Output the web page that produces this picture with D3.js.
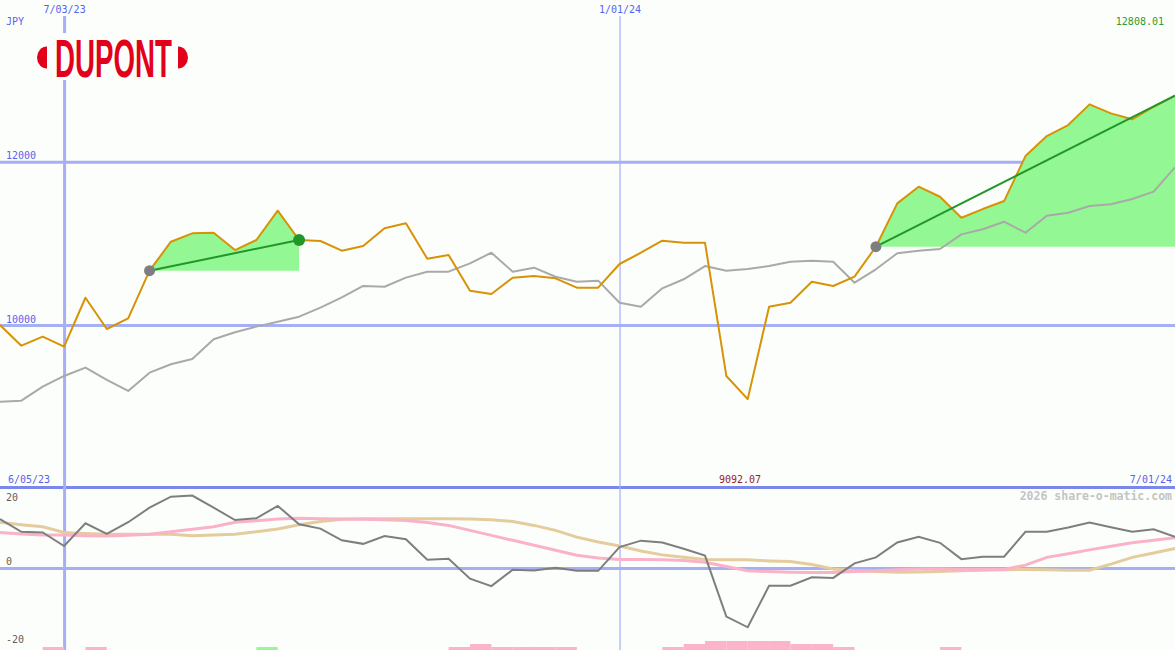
<!DOCTYPE html>
<html>
<head>
<meta charset="utf-8">
<script src="https://cdn.jsdelivr.net/npm/d3@7"></script>
<style>
  html, body { margin: 0; padding: 0; background: #fcfefc; }
  svg { display: block; }
  text { font-family: "DejaVu Sans Mono", monospace; font-size: 10px; }
</style>
</head>
<body>
<svg id="chart" width="1175" height="650"></svg>
<script>
// ---------- DATA ----------
const startDate = new Date(2023, 5, 12);      // first weekly point
const weekCount = 56;
const dateTicks = [new Date(2023, 6, 3), new Date(2024, 0, 1)];
const priceTicks = [10000, 12000];
const oscTicks = [20, 0, -20];
const currency = "JPY";
const startLabel = "6/05/23";
const endLabel = "7/01/24";
const maxLabel = "12808.01";
const minLabel = "9092.07";
const watermark = "2026 share-o-matic.com";

const price = [10000, 9747, 9857, 9734, 10334, 9951, 10082, 10665, 11020, 11123,
  11130, 10918, 11041, 11400, 11041, 11029, 10910, 10967, 11184, 11245,
  10812, 10857, 10420, 10380, 10579, 10600, 10572, 10457, 10457, 10747,
  10885, 11032, 11008, 11008, 9376, 9092.07, 10224, 10273, 10530, 10478,
  10592, 10959, 11490, 11694, 11571, 11314, 11420, 11518, 12069, 12314,
  12449, 12702, 12592, 12519, 12673, 12808.01];

const index = [9061, 9073, 9245, 9376, 9478, 9327, 9192, 9416, 9519, 9584,
  9825, 9911, 9980, 10041, 10102, 10212, 10339, 10478, 10469, 10580,
  10653, 10653, 10755, 10885, 10653, 10702, 10591, 10530, 10543, 10273,
  10224, 10449, 10560, 10722, 10665, 10686, 10722, 10775, 10788, 10775,
  10518, 10682, 10878, 10910, 10931, 11110, 11172, 11265, 11130, 11338,
  11375, 11457, 11478, 11543, 11633, 11931];

const momentum = [13.8, 10.2, 10.0, 6.2, 12.6, 9.6, 12.9, 17.0, 20.1, 20.4,
  17.0, 13.5, 14.0, 17.5, 12.3, 11.1, 7.8, 6.8, 9.0, 8.1,
  2.3, 2.6, -3.0, -5.1, -0.5, -0.7, 0.1, -0.8, -0.8, 5.9,
  7.7, 7.2, 5.4, 3.5, -13.7, -16.7, -5.0, -5.0, -2.6, -2.8,
  1.3, 3.0, 7.2, 8.8, 7.1, 2.5, 3.2, 3.2, 10.2, 10.2,
  11.4, 12.8, 11.5, 10.2, 10.9, 8.8];

const slowAvg = [10.0, 9.6, 9.3, 9.3, 9.1, 9.0, 9.2, 9.5, 10.2, 10.9,
  11.6, 12.9, 13.3, 13.8, 14.0, 13.9, 13.8, 13.7, 13.6, 13.4,
  12.8, 12.0, 10.6, 9.2, 7.8, 6.4, 5.0, 3.6, 2.8, 2.4,
  2.4, 2.3, 2.1, 1.6, 0.4, -0.8, -1.0, -1.2, -1.3, -1.3,
  -1.0, -0.8, -0.5, -0.3, -0.3, -0.4, -0.4, -0.4, 0.8, 3.0,
  4.0, 5.1, 6.1, 7.1, 7.8, 8.5];

const longAvg = [12.9, 12.2, 11.6, 10.0, 9.7, 9.5, 9.5, 9.5, 9.5, 9.1,
  9.3, 9.5, 10.2, 11.0, 12.2, 13.1, 13.7, 13.9, 13.9, 13.9,
  13.9, 13.9, 13.8, 13.6, 13.1, 12.0, 10.6, 8.7, 7.3, 6.2,
  4.8, 3.7, 3.0, 2.4, 2.3, 2.3, 2.0, 1.8, 1.0, -0.3,
  -0.8, -1.0, -1.2, -1.1, -1.0, -0.8, -0.6, -0.5, -0.4, -0.5,
  -0.6, -0.6, 1.1, 3.0, 4.2, 5.5];

// signal strength bars (negative = pink, positive = green)
const signalBars = [0, 0, -1, 0, -1, 0, 0, 0, 0, 0,
  0, 0, 1, 0, 0, 0, 0, 0, 0, 0,
  0, -1, -2, -1, -1, -1, -1, 0, 0, 0,
  0, -1, -2, -3, -3, -3, -3, -2, -2, -1,
  0, 0, 0, 0, -1, 0, 0, 0, 0, 0,
  0, 0, 0, 0, 0, 0];

// trend runs (start index, end index)
const runStarts = [7, 41];
const runEnds = [14, 55];
const runEndMarker = [true, false];

// ---------- SETUP ----------
const W = 1175, H = 650;
const dates = d3.range(weekCount).map(i => d3.timeDay.offset(startDate, 7 * i));
const svg = d3.select("#chart");
svg.append("rect").attr("width", W).attr("height", H).attr("fill", "#fcfefc");

const x = d3.scaleTime().domain([dates[0], dates[weekCount - 1]]).range([0, W]);
const yTop = d3.scaleLinear().domain([10000, 12000]).range([325, 161.7]);
const yBot = d3.scaleLinear().domain([0, 20]).range([568, 497]);
const yBar = d3.scaleLinear().domain([0, 3]).range([650, 641]);

const gridBlue = "#a6aef4";
const textBlue = "#5464ec";

svg.append("clipPath").attr("id", "clipTop").append("rect").attr("x", 0).attr("y", 0).attr("width", W).attr("height", 486);
svg.append("clipPath").attr("id", "clipBot").append("rect").attr("x", 0).attr("y", 488).attr("width", W).attr("height", 162);

// ---------- GRID / AXES ----------
const gY = svg.append("g").attr("class", "ygrid")
  .call(d3.axisRight(yTop).tickValues(priceTicks).tickSize(W).tickFormat(d3.format("d")));
gY.select(".domain").remove();
gY.selectAll(".tick line").attr("stroke", gridBlue).attr("stroke-width", 3);
gY.selectAll(".tick text").attr("x", 6).attr("dy", -3).attr("y", 0)
  .attr("text-anchor", "start").attr("fill", textBlue)
  .style("font-family", '"DejaVu Sans Mono", monospace').style("font-size", "10px");

const gB = svg.append("g")
  .call(d3.axisRight(yBot).tickValues([0]).tickSize(W).tickFormat(""));
gB.select(".domain").remove();
gB.selectAll(".tick line").attr("stroke", gridBlue).attr("stroke-width", 3);

// separator between panels
svg.append("line").attr("x1", 0).attr("x2", W).attr("y1", 487.5).attr("y2", 487.5)
  .attr("stroke", "#7a88ec").attr("stroke-width", 3);

const gX = svg.append("g").attr("transform", "translate(0,16)")
  .call(d3.axisTop(x).tickValues(dateTicks).tickSize(-(H - 16)).tickFormat(d3.timeFormat("%-m/%d/%y")));
gX.select(".domain").remove();
gX.selectAll(".tick line").attr("stroke", gridBlue)
  .attr("stroke-width", (d, i) => i === 0 ? 3 : 1.2);
gX.selectAll(".tick text").attr("fill", textBlue).attr("y", -3)
  .style("font-family", '"DejaVu Sans Mono", monospace').style("font-size", "10px");

// ---------- TOP PANEL ----------
const topG = svg.append("g").attr("clip-path", "url(#clipTop)");

runStarts.forEach((s, k) => {
  const e = runEnds[k];
  const seg = d3.range(s, e + 1);
  const base = price[s];
  topG.append("path").datum(seg)
    .attr("fill", "#93f893")
    .attr("d", d3.area().x(i => x(dates[i])).y0(yTop(base)).y1(i => yTop(price[i])));
});

const lineOf = (arr, sc) => d3.line().x((d, i) => x(dates[i])).y(d => sc(d))(arr);

topG.append("path").attr("d", lineOf(index, yTop))
  .attr("fill", "none").attr("stroke", "#a9a9a9").attr("stroke-width", 2).attr("stroke-linejoin", "round");
topG.append("path").attr("d", lineOf(price, yTop))
  .attr("fill", "none").attr("stroke", "#d89206").attr("stroke-width", 2).attr("stroke-linejoin", "round");

runStarts.forEach((s, k) => {
  const e = runEnds[k];
  topG.append("line")
    .attr("x1", x(dates[s])).attr("y1", yTop(price[s]))
    .attr("x2", x(dates[e])).attr("y2", yTop(price[e]))
    .attr("stroke", "#23962a").attr("stroke-width", 2);
  topG.append("circle").attr("cx", x(dates[s])).attr("cy", yTop(price[s])).attr("r", 5.5).attr("fill", "#7e7e7e");
  if (runEndMarker[k]) {
    topG.append("circle").attr("cx", x(dates[e])).attr("cy", yTop(price[e])).attr("r", 6).attr("fill", "#23962a");
  }
});

// ---------- BOTTOM PANEL ----------
const botG = svg.append("g").attr("clip-path", "url(#clipBot)");
const barData = signalBars.map((v, i) => ({ v, i })).filter(d => d.v !== 0 && d.i < weekCount - 1);
botG.selectAll("rect.bar").data(barData).enter().append("rect")
  .attr("x", d => x(dates[d.i]))
  .attr("width", d => x(dates[d.i + 1]) - x(dates[d.i]))
  .attr("y", d => yBar(Math.abs(d.v)))
  .attr("height", d => yBar(0) - yBar(Math.abs(d.v)))
  .attr("fill", d => d.v > 0 ? "#98f898" : "#fbb4ca");

botG.append("path").attr("d", lineOf(longAvg, yBot))
  .attr("fill", "none").attr("stroke", "#e4cc9c").attr("stroke-width", 3);
botG.append("path").attr("d", lineOf(slowAvg, yBot))
  .attr("fill", "none").attr("stroke", "#fab2c8").attr("stroke-width", 3);
botG.append("path").attr("d", lineOf(momentum, yBot))
  .attr("fill", "none").attr("stroke", "#7e7e7e").attr("stroke-width", 2);

// oscillator labels
const oscY = v => v === 0 ? yBot(0) - 3 : Math.min(yBot(v) + 3.5, 646);
svg.selectAll("text.osc").data(oscTicks).enter().append("text")
  .attr("x", 6).attr("y", d => oscY(d)).attr("fill", "#5e5e5e").text(d => d);

// ---------- LABELS ----------
svg.append("text").attr("x", 6).attr("y", 25).attr("fill", textBlue).text(currency);
svg.append("text").attr("x", 1164).attr("y", 25).attr("text-anchor", "end").attr("fill", "#2e9a2e").text(maxLabel);
svg.append("text").attr("x", 8).attr("y", 483).attr("fill", textBlue).text(startLabel);
svg.append("text").attr("x", 740).attr("y", 483).attr("text-anchor", "middle").attr("fill", "#9c1a1a").text(minLabel);
svg.append("text").attr("x", 1172).attr("y", 483).attr("text-anchor", "end").attr("fill", textBlue).text(endLabel);
svg.append("text").attr("x", 1172).attr("y", 500).attr("text-anchor", "end").attr("fill", "#c4c4c4")
  .style("font-size", "11.5px").style("font-weight", "bold").text(watermark);

// ---------- LOGO ----------
const logo = svg.append("g");
logo.append("rect").attr("x", 30).attr("y", 33).attr("width", 165).attr("height", 47).attr("fill", "#fcfefc");
logo.append("path").attr("d", "M47,46.5 A10,11 0 0 0 47,68.5 Z").attr("fill", "#e2001a");
logo.append("path").attr("d", "M178,46.5 A10,11 0 0 1 178,68.5 Z").attr("fill", "#e2001a");
logo.append("text").attr("x", 55).attr("y", 77)
  .attr("textLength", 117).attr("lengthAdjust", "spacingAndGlyphs")
  .style("font-family", '"Liberation Sans", Arial, sans-serif')
  .style("font-size", "54px").style("font-weight", "bold")
  .attr("fill", "#e2001a").text("DUPONT");
</script>
</body>
</html>
